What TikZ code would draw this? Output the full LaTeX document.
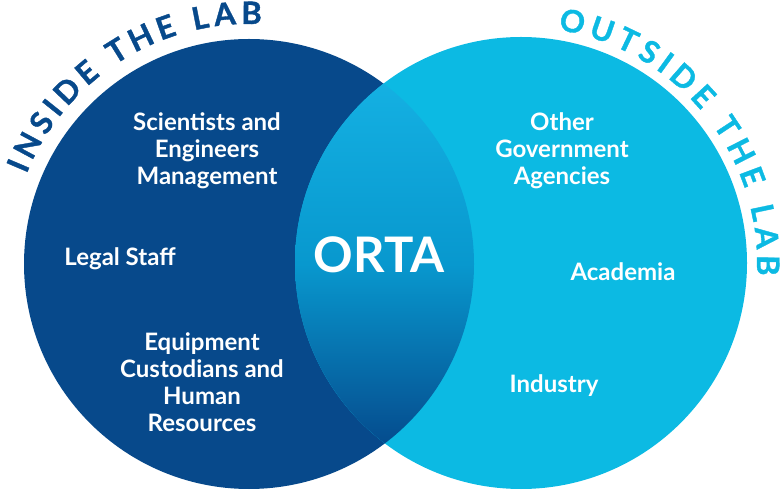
\documentclass[tikz,border=0pt]{standalone}
\usepackage{fontspec}
\setmainfont{Lato}
\newfontfamily\arcfam{Lato}[FakeBold=1.2]
\usetikzlibrary{decorations.text}
\definecolor{navy}{RGB}{7,73,139}
\definecolor{sky}{RGB}{12,186,227}
\definecolor{lenstop}{RGB}{20,176,226}
\definecolor{lensmid}{RGB}{8,152,206}
\definecolor{lensbot}{RGB}{5,76,142}
\newcommand\arcfont{\arcfam\fontsize{31}{31}\selectfont\bfseries}
\begin{document}
\begin{tikzpicture}[x=1pt,y=1pt,
  lbl/.style={text=white, font=\fontsize{24}{27}\selectfont\bfseries, align=center, inner sep=0pt},
  bigl/.style={text=white, font=\fontsize{49}{49}\selectfont\bfseries, inner sep=0pt}]
\useasboundingbox (0,0) rectangle (783,492);
\coordinate (cl) at (249,228);
\coordinate (cr) at (521,229);
\fill[navy] (cl) circle[radius=225];
\fill[sky] (cr) circle[radius=226];
\begin{scope}
\clip (cl) circle[radius=225];
\clip (cr) circle[radius=226];
\shade[top color=lenstop, bottom color=lensbot, middle color=lensmid] (290,48) rectangle (480,408);
\end{scope}
\path[decorate, decoration={text along path, text={|\arcfont|INSIDE THE LAB}, text align={fit to path}, text color=navy}]
  (cl) ++(158:240) arc[start angle=158, end angle=87, radius=240];
\path[decorate, decoration={text along path, text={|\arcfont|OUTSIDE THE LAB}, text align={fit to path}, text color=sky}]
  (cr) ++(81:236) arc[start angle=81, end angle=-3, radius=236];
\node[lbl] (sci) at (207,341) {Scientists and\\Engineers\\Management};
\node[lbl] (legal) at (120,233) {Legal Staff};
\node[lbl] (equip) at (202,110) {Equipment\\Custodians and\\Human\\Resources};
\node[bigl] (orta) at (379,237) {ORTA};
\node[lbl] (other) at (562,341) {Other\\Government\\Agencies};
\node[lbl] (acad) at (623,220) {Academia};
\node[lbl] (ind) at (554,106) {Industry};
\end{tikzpicture}
\end{document}
